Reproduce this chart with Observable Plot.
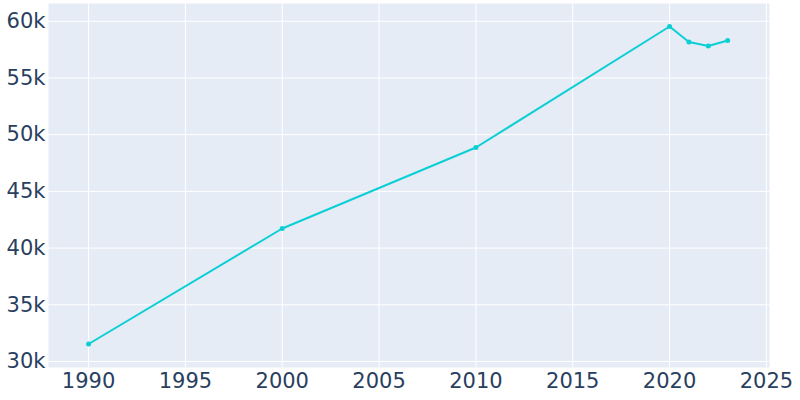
<!DOCTYPE html>
<html>
<head>
<meta charset="utf-8">
<script src="https://cdn.jsdelivr.net/npm/d3@7"></script>
<script src="https://cdn.jsdelivr.net/npm/@observablehq/plot@0.6"></script>
<style>
  html, body { margin: 0; padding: 0; background: #fff; }
  svg { display: block; }
</style>
</head>
<body>
<div id="chart"></div>
<script>
const years = [1990, 2000, 2010, 2020, 2021, 2022, 2023];
const population = [31543, 41728, 48871, 59541, 58175, 57822, 58307];
const xTicks = [1990, 1995, 2000, 2005, 2010, 2015, 2020, 2025];
const yTicks = [30000, 35000, 40000, 45000, 50000, 55000, 60000];

const data = years.map((y, i) => ({year: y, pop: population[i]}));

const chart = Plot.plot({
  width: 800,
  height: 400,
  marginLeft: 48,
  marginRight: 31,
  marginTop: 3,
  marginBottom: 33,
  style: {fontFamily: "DejaVu Sans, sans-serif", fontSize: "21px", color: "#2a3f5f", background: "white"},
  x: {domain: [1987.93, 2025.16], ticks: xTicks, tickFormat: d => String(d)},
  y: {domain: [29470, 61570], ticks: yTicks, tickFormat: d => (d / 1000) + "k"},
  marks: [
    Plot.frame({fill: "#e5ecf6", stroke: null}),
    Plot.gridX(xTicks, {stroke: "white", strokeOpacity: 1, strokeWidth: 1}),
    Plot.gridY(yTicks, {stroke: "white", strokeOpacity: 1, strokeWidth: 1}),
    Plot.axisX(xTicks, {tickSize: 0, tickPadding: 6, fontSize: 21, fill: "#2a3f5f", label: null, tickFormat: d => String(d)}),
    Plot.axisY(yTicks, {tickSize: 0, tickPadding: 3, fontSize: 21, fill: "#2a3f5f", label: null, tickFormat: d => (d / 1000) + "k"}),
    Plot.line(data, {x: "year", y: "pop", stroke: "#0ccfd5", strokeWidth: 2}),
    Plot.dot(data, {x: "year", y: "pop", fill: "#0ccfd5", r: 2.5, stroke: null})
  ]
});
document.getElementById("chart").appendChild(chart);
</script>
</body>
</html>
